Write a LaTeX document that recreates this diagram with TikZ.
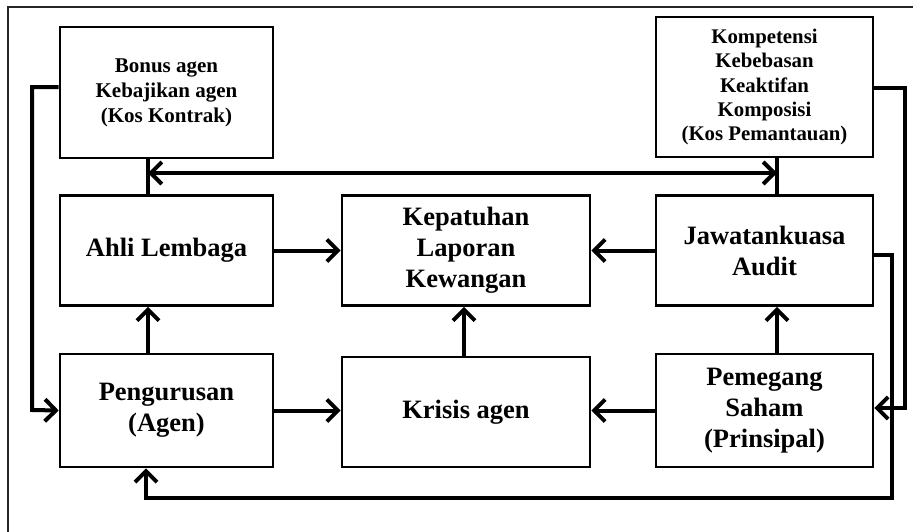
\documentclass[tikz,border=0pt]{standalone}
\usepackage{fontspec}
\setmainfont{Liberation Serif}
\usetikzlibrary{arrows.meta}
\begin{document}
\begin{tikzpicture}[x=1pt,y=-1pt,
  box/.style={draw,line width=2.6pt,inner sep=0pt,align=center,font=\bfseries\fontsize{26.5}{31}\selectfont},
  smallbox/.style={box,font=\bfseries\fontsize{21}{25}\selectfont},
  tinybox/.style={box,font=\bfseries\fontsize{20.8}{24.4}\selectfont},
  link/.style={line width=4pt},
  arr/.style={link,-{Straight Barb[length=11pt,width=22pt]}},
  dblarr/.style={link,{Straight Barb[length=11pt,width=22pt]}-{Straight Barb[length=11pt,width=22pt]}}]
\useasboundingbox (0,0) rectangle (913,531);
% outer frame (only top and left edges fall inside the page)
\draw[line width=2.4pt,black!85] (8,540) -- (8,7) -- (925,7);

% boxes
\node[smallbox,minimum width=213pt,minimum height=131pt] (bonus) at (166.5,92.5)
  {Bonus agen\\Kebajikan agen\\(Kos Kontrak)};
\node[tinybox,minimum width=217pt,minimum height=140pt] (komp) at (764.5,87)
  {Kompetensi\\Kebebasan\\Keaktifan\\Komposisi\\(Kos Pemantauan)};
\node[box,minimum width=213pt,minimum height=110pt] (ahli) at (166.5,250.5) {Ahli Lembaga};
\node[box,minimum width=248pt,minimum height=110pt] (kep) at (466,250.5)
  {Kepatuhan\\Laporan\\Kewangan};
\node[box,minimum width=217pt,minimum height=110pt] (jaw) at (764.5,250.5)
  {Jawatankuasa\\Audit};
\node[box,minimum width=213pt,minimum height=113pt] (peng) at (166.5,410.5)
  {Pengurusan\\(Agen)};
\node[box,minimum width=248pt,minimum height=110pt] (kris) at (466,412) {Krisis agen};
\node[box,minimum width=217pt,minimum height=113pt] (pem) at (764.5,410.5)
  {Pemegang\\Saham\\(Prinsipal)};

% column positions of the vertical links
\coordinate (cl) at (148,0);
\coordinate (cr) at (777,0);
\coordinate (cm) at (464,0);

% links between the cost boxes and the boards
\draw[link] (bonus.south -| cl) -- (ahli.north -| cl);
\draw[link] (komp.south -| cr) -- (jaw.north -| cr);
\coordinate (dl) at (148,173);
\coordinate (dr) at (777,173);
\draw[dblarr] (dl) -- (dr);

% main flows
\draw[arr] (ahli.east) -- (kep.west);
\draw[arr] (jaw.west) -- (kep.east);
\draw[arr] (kris.north -| cm) -- (kep.south -| cm);
\draw[arr] (peng.east) -- (kris.west |- peng.east);
\draw[arr] (pem.west) -- (kris.east |- pem.west);
\draw[arr] (peng.north -| cl) -- (ahli.south -| cl);
\draw[arr] (pem.north -| cr) -- (jaw.south -| cr);

% outer loops
\coordinate (bl) at (bonus.west |- 0,87);
\coordinate (kr) at (komp.east |- 0,88);
\coordinate (jr) at (jaw.east |- 0,255);
\draw[arr] (bl) -| (32,410) -- (peng.west);
\draw[arr] (kr) -| (905,408) -- (pem.east |- 0,408);
\draw[arr] (jr) -| (892,498) -| (peng.south -| 146,0);
\end{tikzpicture}
\end{document}
